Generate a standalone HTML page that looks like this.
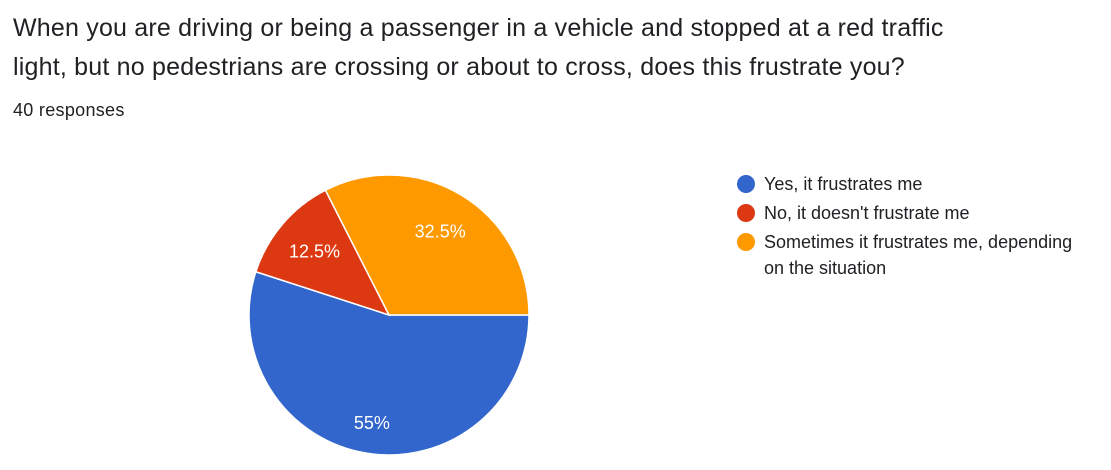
<!DOCTYPE html>
<html><head><meta charset="utf-8"><style>
body{margin:0;width:1111px;height:470px;background:#fff;font-family:"Liberation Sans",Arial,sans-serif;overflow:hidden;position:relative}
.title{position:absolute;left:13px;top:9px;font-size:25px;letter-spacing:0.2px;line-height:39px;color:#202124;width:1090px;white-space:nowrap}
.resp{position:absolute;left:13px;top:100px;font-size:18px;letter-spacing:0.3px;color:#202124}
.leg{position:absolute;left:737px;font-size:18px;color:#202124;line-height:26px}
.dot{position:absolute;left:0;top:4px;width:18px;height:18px;border-radius:50%}
.lt{margin-left:27px;width:330px}
</style></head><body>
<div class="title">When you are driving or being a passenger in a vehicle and stopped at a red traffic<br>light, but no pedestrians are crossing or about to cross, does this frustrate you?</div>
<div class="resp">40 responses</div>
<svg id="pie" width="1111" height="470" style="position:absolute;left:0;top:0"></svg>
<div id="legend"></div>
<script>
const categories=["Yes, it frustrates me","No, it doesn't frustrate me","Sometimes it frustrates me, depending on the situation"];
const values=[55,12.5,32.5];
const labels=["55%","12.5%","32.5%"];
const colors=["#3366cc","#dc3912","#ff9900"];
const cx=389,cy=315,r=140,start=90;
const svg=document.getElementById('pie');
const ns="http://www.w3.org/2000/svg";
const total=values.reduce((a,b)=>a+b,0);
function pt(deg,rad){const a=deg*Math.PI/180;return [cx+rad*Math.sin(a),cy-rad*Math.cos(a)];}
let ang=start;
values.forEach((v,i)=>{
  const sweep=v/total*360;
  const p1=pt(ang,r),p2=pt(ang+sweep,r);
  const path=document.createElementNS(ns,'path');
  path.setAttribute('d',`M${cx},${cy}L${p1[0]},${p1[1]}A${r},${r} 0 ${sweep>180?1:0} 1 ${p2[0]},${p2[1]}Z`);
  path.setAttribute('fill',colors[i]);path.setAttribute('stroke','#fff');path.setAttribute('stroke-width','1.5');
  
  
  svg.appendChild(path);
  const lp=pt(ang+sweep/2,r*(sweep>180?0.78:0.7));
  const t=document.createElementNS(ns,'text');
  t.setAttribute('x',lp[0]);t.setAttribute('y',lp[1]+6);t.setAttribute('text-anchor','middle');
  t.setAttribute('fill','#fff');t.setAttribute('font-size','18');t.setAttribute('font-family','Liberation Sans, Arial, sans-serif');
  t.textContent=labels[i];
  
  
  svg.appendChild(t);
  ang+=sweep;
});
const leg=document.getElementById('legend');
const tops=[171,200,229];
categories.forEach((c,i)=>{
  const d=document.createElement('div');d.className='leg';d.style.top=tops[i]+'px';
  
  
  d.innerHTML=`<span class="dot" style="background:${colors[i]}"></span><div class="lt">${c}</div>`;
  leg.appendChild(d);
});
</script>
</body></html>
